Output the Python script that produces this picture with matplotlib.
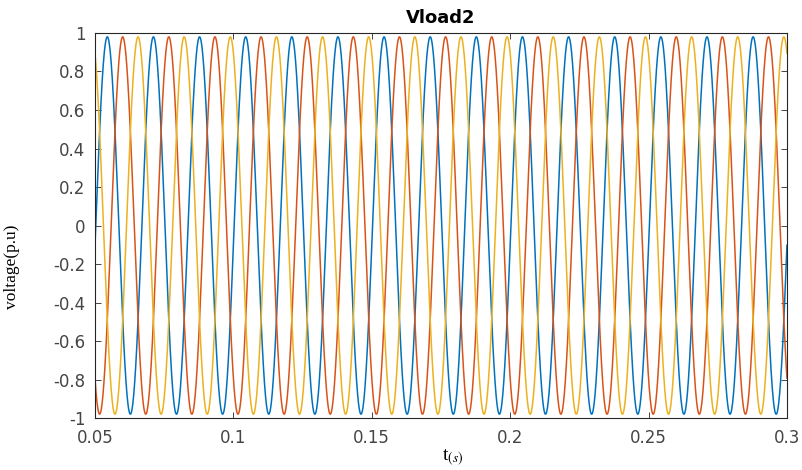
import numpy as np
import matplotlib.pyplot as plt

# three-phase load voltage
t_start, t_end = 0.05, 0.3
freq = 60.0                     # Hz (15 cycles across 0.25 s)
amplitude = 0.98                # p.u.
phase_deg = [-6.0, -126.0, -246.0]
colors = ['#0072BD', '#D95319', '#EDB120']

xticks = [0.05, 0.1, 0.15, 0.2, 0.25, 0.3]
xticklabels = ['0.05', '0.1', '0.15', '0.2', '0.25', '0.3']
yticks = [-1, -0.8, -0.6, -0.4, -0.2, 0, 0.2, 0.4, 0.6, 0.8, 1]
yticklabels = ['-1', '-0.8', '-0.6', '-0.4', '-0.2', '0', '0.2', '0.4', '0.6', '0.8', '1']

plt.rcParams['mathtext.fontset'] = 'stix'

fig = plt.figure(figsize=(8.03, 4.70), dpi=100)
ax = fig.add_axes([0.1183, 0.1106, 0.8617, 0.8192])

t = np.linspace(t_start, t_end, 4000)
for ph, c in zip(phase_deg, colors):
    ax.plot(t, amplitude * np.sin(2 * np.pi * freq * t + np.deg2rad(ph)), color=c, lw=1.1)

ax.set_xlim(t_start, t_end)
ax.set_ylim(-1, 1)
ax.set_xticks(xticks)
ax.set_xticklabels(xticklabels)
ax.set_yticks(yticks)
ax.set_yticklabels(yticklabels)
ax.tick_params(direction='in', length=4, width=0.6, colors='#262626', labelsize=12,
               top=True, right=True)
ax.tick_params(axis='x', pad=8)
ax.tick_params(axis='y', pad=7)
for lab in ax.get_xticklabels() + ax.get_yticklabels():
    lab.set_color('#454545')
for s in ax.spines.values():
    s.set_color('#262626')
    s.set_linewidth(0.8)

ax.set_title('Vload2', fontsize=13, fontweight='bold', pad=7)
ax.set_xlabel('t$_{(s)}$', fontsize=14, family='Liberation Serif')
ax.xaxis.set_label_coords(0.517, -0.078)
ax.set_ylabel('voltage(p.u)', fontsize=12.5, family='Liberation Serif')
ax.yaxis.set_label_coords(-0.108, 0.392)

fig.savefig('out.png', dpi=100)
